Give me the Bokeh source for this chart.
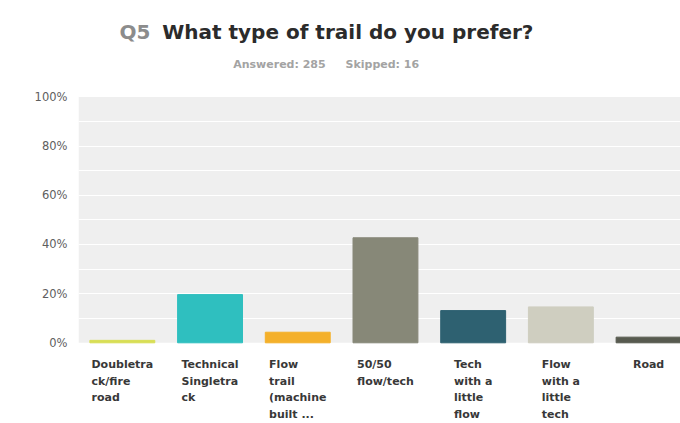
from bokeh.plotting import figure
from bokeh.models import (ColumnDataSource, Range1d, FixedTicker, BoxAnnotation,
                          Label, CustomJSTickFormatter)
from bokeh.core.properties import value
from bokeh.embed import file_html
from bokeh.resources import INLINE

# ---- data ----
categories = [
    "Doubletra\nck/fire\nroad",
    "Technical\nSingletra\nck",
    "Flow\ntrail\n(machine\nbuilt ...",
    "50/50\nflow/tech",
    "Tech\nwith a\nlittle\nflow",
    "Flow\nwith a\nlittle\ntech",
    "Road",
]
percent = [1.0, 19.6, 4.3, 42.7, 13.1, 14.6, 2.3]
colors = ["#d8de55", "#2fbfbf", "#f4b02a", "#878878", "#2e6171", "#cfcec0", "#575a4f"]
y_ticks = [0, 20, 40, 60, 80, 100]
grid_ticks = [10, 20, 30, 40, 50, 60, 70, 80, 90, 100]
title_q = "Q5"
title_text = "What type of trail do you prefer?"
answered = "Answered: 285"
skipped = "Skipped: 16"

FONT = "DejaVu Sans"

idx = list(range(len(categories)))
src = ColumnDataSource(dict(x=idx, top=percent, color=colors, label=categories,
                            ly=[-6.2] * len(idx)))

p = figure(width=680, height=423, output_backend="svg", toolbar_location=None,
           title=None, x_range=Range1d(-0.5, 6.364), y_range=Range1d(-32.8, 139.15),
           min_border_left=78, min_border_right=0, min_border_top=0, min_border_bottom=0)
p.background_fill_color = "white"
p.border_fill_color = "white"
p.outline_line_color = None

# plot-area background
p.add_layout(BoxAnnotation(bottom=0, top=100, fill_color="#efefef", fill_alpha=1.0,
                           line_color=None, level="image"))

p.vbar(x="x", top="top", bottom=0, width=0.74, color="color", source=src)

p.text(x="x", y="ly", text="label", source=src, anchor="top_center",
       text_align="left", text_font=value(FONT), text_font_style="bold",
       text_font_size="11px", text_color="#383838", text_line_height=1.27)

# axes & grid
p.xaxis.visible = False
p.xgrid.visible = False
p.ygrid.ticker = FixedTicker(ticks=grid_ticks)
p.ygrid.grid_line_color = "white"
p.ygrid.grid_line_width = 1
p.yaxis.ticker = FixedTicker(ticks=y_ticks)
p.yaxis.formatter = CustomJSTickFormatter(code="return tick + '%';")
p.yaxis.axis_line_color = None
p.yaxis.major_tick_line_color = None
p.yaxis.minor_tick_line_color = None
p.yaxis.major_label_standoff = 5
p.yaxis.major_label_text_font = FONT
p.yaxis.major_label_text_font_size = "11.5px"
p.yaxis.major_label_text_color = "#5e5e5e"

# titles (screen units relative to the frame)
p.add_layout(Label(x=41, y=391.3, x_units="screen", y_units="screen", text=title_q,
                   text_font=FONT, text_font_style="bold", text_font_size="20px",
                   text_color="#8c8c8c", text_baseline="alphabetic"))
p.add_layout(Label(x=83.7, y=391.3, x_units="screen", y_units="screen", text=title_text,
                   text_font=FONT, text_font_style="bold", text_font_size="20px",
                   text_color="#2b2b2b", text_baseline="alphabetic"))
p.add_layout(Label(x=154.7, y=359, x_units="screen", y_units="screen", text=answered,
                   text_font=FONT, text_font_style="bold", text_font_size="11px",
                   text_color="#a3a3a3", text_baseline="alphabetic"))
p.add_layout(Label(x=267, y=359, x_units="screen", y_units="screen", text=skipped,
                   text_font=FONT, text_font_style="bold", text_font_size="11px",
                   text_color="#a3a3a3", text_baseline="alphabetic"))

open("out.html", "w").write(file_html(p, INLINE))
